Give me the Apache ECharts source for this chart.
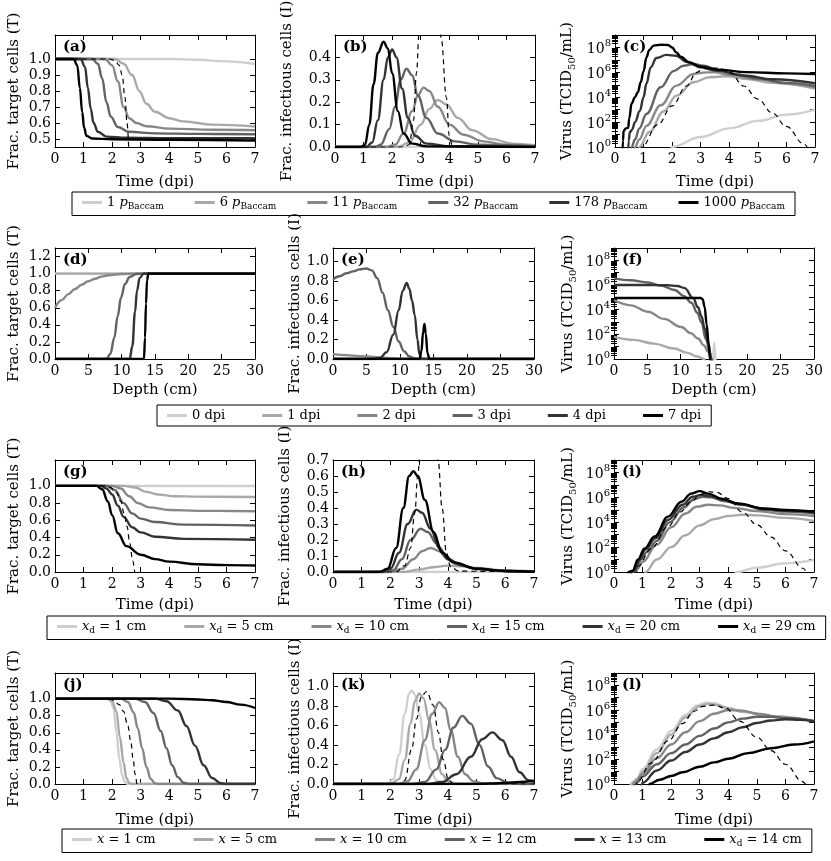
<!DOCTYPE html>
<html>
<head>
<meta charset="utf-8">
<script src="https://cdn.jsdelivr.net/npm/echarts@6/dist/echarts.min.js"></script>
<style>html,body{margin:0;background:#fff}#main{width:831px;height:861px}</style>
</head>
<body>
<div id="main"></div>
<script>
// grey ramp, light -> black (same order as legend entries)
var grays = ['#cfcfcf', '#a9a9a9', '#878787', '#626262', '#333333', '#000000'];
var FONT = 'DejaVu Serif';

var legendRow1 = ['1 pBaccam', '6 pBaccam', '11 pBaccam', '32 pBaccam', '178 pBaccam', '1000 pBaccam'];
var legendRow2 = ['0 dpi', '1 dpi', '2 dpi', '3 dpi', '4 dpi', '7 dpi'];
var legendRow3 = ['xd = 1 cm', 'xd = 5 cm', 'xd = 10 cm', 'xd = 15 cm', 'xd = 20 cm', 'xd = 29 cm'];
var legendRow4 = ['x = 1 cm', 'x = 5 cm', 'x = 10 cm', 'x = 12 cm', 'x = 13 cm', 'xd = 14 cm'];

var timeTicks = [0, 1, 2, 3, 4, 5, 6, 7];
var depthTicks = [0, 5, 10, 15, 20, 25, 30];
var yTicksA = [0.5, 0.6, 0.7, 0.8, 0.9, 1.0];
var yTicksB = [0, 0.1, 0.2, 0.3, 0.4];
var yTicksD = [0, 0.2, 0.4, 0.6, 0.8, 1.0, 1.2];
var yTicksUnit = [0, 0.2, 0.4, 0.6, 0.8, 1.0];
var yTicksH = [0, 0.1, 0.2, 0.3, 0.4, 0.5, 0.6, 0.7];
var logLabelTicks = [0, 2, 4, 6, 8];   // exponents of 10
var logMajorTicks = [0, 1, 2, 3, 4, 5, 6, 7, 8, 9];

// (a) target cells vs time, p sweep
var aCurves = [
  [[0,1],[4,1],[5,0.995],[6,0.985],[7,0.968]],
  [[0,1],[2.1,1],[2.4,0.97],[2.7,0.9],[2.95,0.8],[3.2,0.72],[3.5,0.67],[4,0.63],[4.5,0.61],[5.5,0.59],[7,0.578]],
  [[0,1],[1.75,1],[2.0,0.96],[2.2,0.86],[2.4,0.7],[2.6,0.63],[2.85,0.6],[3.2,0.58],[4,0.565],[5.5,0.558],[7,0.555]],
  [[0,1],[1.3,1],[1.5,0.97],[1.65,0.88],[1.8,0.73],[1.95,0.64],[2.2,0.575],[2.6,0.545],[3.5,0.535],[5,0.532],[7,0.53]],
  [[0,1],[0.9,1],[1.05,0.95],[1.15,0.82],[1.25,0.69],[1.35,0.6],[1.5,0.545],[1.8,0.515],[2.5,0.508],[4,0.505],[7,0.505]],
  [[0,1],[0.65,1],[0.78,0.96],[0.87,0.82],[0.95,0.67],[1.02,0.57],[1.1,0.52],[1.3,0.503],[2,0.498],[4,0.495],[7,0.49]]
];
var aDashed = [[0,1],[1.9,1],[2.1,0.99],[2.25,0.96],[2.35,0.9],[2.45,0.76],[2.52,0.6],[2.58,0.44]];

// (b) infectious cells vs time, p sweep
var bCurves = [
  [[0,0],[4,0],[7,0.002]],
  [[0,0],[2.2,0],[2.6,0.02],[3.0,0.1],[3.3,0.17],[3.6,0.21],[3.9,0.19],[4.3,0.13],[4.8,0.075],[5.5,0.035],[6.2,0.015],[7,0.008]],
  [[0,0],[1.8,0],[2.1,0.01],[2.4,0.06],[2.7,0.16],[2.9,0.23],[3.1,0.265],[3.3,0.25],[3.6,0.18],[4,0.1],[4.5,0.055],[5.2,0.025],[6,0.01],[7,0.004]],
  [[0,0],[1.4,0],[1.6,0.01],[1.9,0.08],[2.1,0.18],[2.3,0.3],[2.5,0.35],[2.7,0.32],[2.9,0.23],[3.2,0.13],[3.6,0.06],[4.2,0.025],[5,0.01],[7,0.002]],
  [[0,0],[1.1,0],[1.3,0.02],[1.5,0.12],[1.7,0.3],[1.85,0.4],[2.0,0.435],[2.15,0.4],[2.35,0.26],[2.55,0.13],[2.8,0.05],[3.2,0.015],[4,0.003],[7,0]],
  [[0,0],[0.9,0],[1.05,0.01],[1.2,0.1],[1.35,0.28],[1.5,0.42],[1.7,0.47],[1.85,0.44],[2.0,0.33],[2.2,0.16],[2.4,0.06],[2.7,0.015],[3.2,0.003],[7,0]]
];
var bDashed = [[0,0],[2.4,0],[2.6,0.01],[2.75,0.12],[2.85,0.33],[2.95,0.52],[3.05,0.75],[3.35,0.95],[3.62,0.7],[3.72,0.48],[3.9,0.22],[4.0,0.05],[4.1,0.01],[4.4,0],[7,0]];

// (c) virus titre, log10 exponents
var cCurves = [
  [[1.95,-0.3],[2.0,0],[3,0.8],[4,1.5],[5,2.1],[6,2.6],[7,3.0]],
  [[0.8,-1],[0.85,0],[1.2,1.2],[1.7,2.85],[2.15,4.13],[2.75,5.2],[3.3,5.6],[3.9,5.68],[4.6,5.47],[5.5,5.15],[7,4.7]],
  [[0.65,-1],[0.7,0],[0.85,0.6],[1.1,1.7],[1.6,3.35],[2.15,4.93],[2.75,5.87],[3.2,6.0],[3.5,6.0],[4,5.8],[5,5.45],[6,5.1],[7,4.8]],
  [[0.55,-1],[0.58,0],[0.7,0.6],[0.85,1.5],[1.1,2.65],[1.6,4.8],[2.05,6.1],[2.4,6.53],[2.75,6.67],[3.1,6.53],[3.6,6.2],[4.2,5.85],[5,5.5],[6,5.15],[7,4.9]],
  [[0.45,-1],[0.48,0.5],[0.52,1.2],[0.6,1.4],[0.7,2.0],[0.87,2.9],[1.0,4.0],[1.1,5.1],[1.25,6.4],[1.45,7.15],[1.8,7.4],[2.15,7.33],[2.5,6.85],[3.0,6.4],[3.5,6.15],[4.5,5.75],[5.5,5.45],[7,5.12]],
  [[0.25,-1],[0.28,0.5],[0.3,1.3],[0.38,1.5],[0.46,1.55],[0.5,2.3],[0.58,3.5],[0.7,4.0],[0.8,4.4],[0.9,5.2],[1.0,6.1],[1.1,7.2],[1.2,7.8],[1.35,8.15],[1.6,8.22],[1.85,8.2],[2.0,8.0],[2.15,7.6],[2.3,7.25],[2.6,6.8],[3.0,6.45],[3.6,6.22],[4.6,6.02],[6,5.92],[7,5.87]]
];
var cDashed = [[0.9,-0.3],[0.93,0],[1.5,1.8],[2.0,3.3],[2.5,4.9],[2.86,6.0],[3.1,6.3],[3.6,6.35],[4.03,6.0],[4.5,4.9],[5.0,3.85],[5.5,2.75],[6.0,1.65],[6.6,0.27],[6.75,-0.1]];

// (d) target cells vs depth
var dCurves = [
  [[0,1],[30,1]],
  [[0,1],[30,1]],
  [[0,0.6],[1,0.69],[2,0.76],[3,0.82],[4,0.87],[5,0.91],[6,0.94],[7,0.965],[8,0.98],[10,0.995],[12,1],[30,1]],
  [[0,0],[7.7,0],[8.3,0.06],[8.9,0.25],[9.4,0.5],[9.9,0.72],[10.5,0.88],[11.2,0.96],[12.2,0.995],[13,1],[30,1]],
  [[0,0],[11.2,0],[11.6,0.15],[12.0,0.55],[12.3,0.8],[12.7,0.95],[13.3,1],[30,1]],
  [[0,0],[13.35,0],[13.5,0.25],[13.65,0.65],[13.8,0.92],[14.0,1],[30,1]]
];

// (e) infectious cells vs depth
var eCurves = [
  [[0,0],[30,0]],
  [[0,0.005],[10,0],[30,0]],
  [[0,0.05],[2,0.04],[4,0.03],[6,0.02],[8,0.01],[10,0.004],[12,0],[30,0]],
  [[0,0.82],[1,0.85],[2,0.88],[3,0.9],[4,0.92],[5,0.93],[5.8,0.91],[6.6,0.83],[7.4,0.68],[8.2,0.5],[9,0.33],[9.8,0.18],[10.6,0.08],[11.4,0.025],[12.2,0.005],[13,0],[30,0]],
  [[0,0],[6,0],[7,0.01],[8,0.07],[9,0.25],[9.8,0.5],[10.4,0.7],[11,0.78],[11.4,0.72],[11.8,0.6],[12.2,0.45],[12.6,0.2],[12.9,0.05],[13.2,0],[30,0]],
  [[0,0],[12.9,0],[13.2,0.08],[13.45,0.28],[13.65,0.36],[13.85,0.26],[14.1,0.06],[14.4,0],[30,0]]
];

// (f) virus vs depth, log10 exponents
var fCurves = [
  [[14.85,-1],[14.95,1.2],[15.1,1.3],[15.25,-1]],
  [[0,1.8],[3,1.55],[6,1.25],[9,0.85],[11,0.5],[12.5,0.2],[13.5,0],[14,-1]],
  [[0,4.78],[2.5,4.35],[5.1,3.83],[7.5,3.25],[10.1,2.59],[11.5,2.1],[12.6,1.66],[13.5,1.1],[14.1,0.61],[14.75,0],[15,-1]],
  [[0,6.54],[2.5,6.38],[5.1,6.2],[7,5.95],[9.1,5.6],[10.5,5.1],[11.6,4.56],[12.5,3.75],[13.1,2.98],[13.8,1.6],[14.35,0.6],[14.6,0],[14.8,-1]],
  [[0,6.0],[5,6.0],[8,5.98],[9.5,5.92],[10.6,5.75],[11.85,4.96],[12.6,4.2],[13.1,3.5],[13.6,2.5],[14.1,1.4],[14.6,0],[14.8,-1]],
  [[0,4.95],[6,4.95],[13.0,4.95],[13.3,4.85],[13.6,4.2],[13.9,2.8],[14.2,1.2],[14.4,0],[14.6,-1]]
];

// (g) target cells vs time, xd sweep
var gCurves = [
  [[0,1],[7,0.998]],
  [[0,1],[2.4,1],[2.8,0.98],[3.2,0.93],[3.6,0.9],[4.2,0.88],[5,0.875],[7,0.87]],
  [[0,1],[2,1],[2.3,0.97],[2.6,0.88],[2.9,0.8],[3.3,0.75],[4,0.72],[5,0.71],[7,0.705]],
  [[0,1],[1.8,1],[2.1,0.95],[2.4,0.8],[2.7,0.68],[3.0,0.62],[3.5,0.58],[4.5,0.55],[7,0.54]],
  [[0,1],[1.6,1],[1.8,0.97],[2.0,0.9],[2.2,0.77],[2.4,0.64],[2.7,0.52],[3.0,0.46],[3.5,0.41],[4.5,0.385],[7,0.375]],
  [[0,1],[1.45,1],[1.65,0.96],[1.85,0.82],[2.0,0.66],[2.2,0.45],[2.5,0.3],[3,0.2],[3.5,0.15],[4,0.12],[5,0.09],[6,0.08],[7,0.075]]
];
var gDashed = [[0,1],[1.8,1],[1.95,0.98],[2.15,0.92],[2.3,0.82],[2.42,0.68],[2.52,0.53],[2.62,0.33],[2.72,0.13],[2.8,0],[2.85,-0.05]];

// (h) infectious cells vs time, xd sweep
var hCurves = [
  [[0,0],[5,0],[6,0.002],[7,0.003]],
  [[0,0],[2.4,0],[3,0.015],[3.5,0.03],[4,0.04],[4.5,0.035],[5,0.025],[6,0.01],[7,0.004]],
  [[0,0],[2.0,0],[2.4,0.02],[2.8,0.08],[3.1,0.13],[3.4,0.15],[3.7,0.13],[4.0,0.08],[4.4,0.045],[5,0.02],[6,0.006],[7,0.002]],
  [[0,0],[1.8,0],[2.1,0.01],[2.4,0.08],[2.7,0.2],[3.05,0.27],[3.3,0.25],[3.6,0.18],[3.9,0.1],[4.3,0.05],[5,0.02],[6,0.006],[7,0.002]],
  [[0,0],[1.7,0],[2.0,0.02],[2.3,0.12],[2.6,0.3],[2.9,0.39],[3.1,0.37],[3.4,0.27],[3.7,0.15],[4.0,0.08],[4.5,0.04],[5,0.02],[6,0.006],[7,0.002]],
  [[0,0],[1.6,0],[1.9,0.02],[2.2,0.15],[2.45,0.4],[2.65,0.6],[2.8,0.63],[2.95,0.6],[3.2,0.45],[3.5,0.25],[3.8,0.12],[4.2,0.06],[5,0.02],[6,0.006],[7,0.002]]
];
var hDashed = [[0,0],[2.2,0],[2.5,0.04],[2.7,0.15],[2.85,0.37],[2.95,0.6],[3.05,0.8],[3.3,0.95],[3.55,0.85],[3.66,0.7],[3.8,0.4],[3.95,0.12],[4.1,0.03],[4.4,0.005],[7,0]];

// (i) virus vs time, xd sweep, log10 exponents
var iCurves = [
  [[4.2,-0.3],[4.3,0],[5,0.35],[6,0.7],[7,0.97]],
  [[1.05,-0.5],[1.1,0],[1.5,1.0],[2.0,2.0],[2.5,2.95],[3.0,3.75],[3.5,4.25],[4.0,4.5],[4.5,4.6],[5.0,4.55],[6.0,4.35],[7,4.1]],
  [[0.6,-1],[0.65,0],[0.8,0.2],[1.0,0.8],[1.5,2.2],[2.0,3.6],[2.5,4.7],[2.9,5.25],[3.3,5.4],[3.7,5.35],[4.2,5.15],[5,4.9],[6,4.65],[7,4.5]],
  [[0.55,-1],[0.6,0],[0.72,0.1],[0.95,1.0],[1.15,1.6],[1.5,2.5],[1.95,4.0],[2.45,5.2],[2.8,5.85],[3.1,6.05],[3.4,6.0],[3.85,5.7],[4.45,5.4],[5.3,5.0],[6,4.85],[7,4.7]],
  [[0.55,-1],[0.6,0],[0.7,0.1],[0.9,1.0],[1.1,1.8],[1.45,2.7],[1.9,4.2],[2.4,5.4],[2.75,6.05],[3.05,6.2],[3.35,6.1],[3.8,5.8],[4.4,5.45],[5.3,5.05],[6,4.92],[7,4.8]],
  [[0.45,-1],[0.5,0],[0.65,0.1],[0.84,1.0],[1.07,1.9],[1.42,2.85],[1.89,4.45],[2.36,5.65],[2.7,6.3],[3.0,6.5],[3.29,6.3],[3.76,5.9],[4.34,5.5],[5.27,5.1],[6,4.98],[7,4.85]]
];
var iDashed = [[0.78,-0.3],[0.84,0.45],[1.3,1.9],[1.89,3.65],[2.3,4.8],[2.7,5.65],[3.0,6.2],[3.3,6.45],[3.6,6.4],[4.0,5.9],[4.5,4.8],[5.0,3.8],[5.5,2.8],[6.0,1.7],[6.62,0.3],[6.75,-0.1]];

// (j) target cells vs time, x sweep
var jCurves = [
  [[0,1],[1.8,1],[1.95,0.97],[2.05,0.88],[2.15,0.6],[2.25,0.3],[2.35,0.1],[2.45,0.02],[2.55,0],[7,0]],
  [[0,1],[1.85,1],[2.0,0.97],[2.15,0.85],[2.27,0.55],[2.4,0.25],[2.5,0.07],[2.6,0.01],[2.7,0],[7,0]],
  [[0,1],[2.3,1],[2.55,0.96],[2.75,0.84],[2.9,0.65],[3.05,0.42],[3.2,0.2],[3.35,0.06],[3.5,0.01],[3.6,0],[7,0]],
  [[0,1],[2.8,1],[3.15,0.96],[3.45,0.83],[3.7,0.62],[3.9,0.42],[4.1,0.22],[4.3,0.08],[4.5,0.015],[4.7,0],[7,0]],
  [[0,1],[3.5,1],[3.9,0.97],[4.3,0.86],[4.6,0.68],[4.9,0.45],[5.2,0.22],[5.5,0.07],[5.8,0.01],[6,0],[7,0]],
  [[0,1],[4,1],[5,0.99],[5.5,0.98],[6,0.96],[6.5,0.93],[7,0.89]]
];
var jDashed = [[0,1],[1.9,1],[2.05,0.98],[2.25,0.93],[2.4,0.85],[2.55,0.68],[2.65,0.5],[2.74,0.28],[2.8,0.12],[2.86,0]];

// (k) infectious cells vs time, x sweep
var kCurves = [
  [[0,0],[1.9,0],[2.1,0.05],[2.3,0.3],[2.5,0.72],[2.65,0.93],[2.75,0.96],[2.85,0.92],[3.0,0.72],[3.2,0.4],[3.4,0.15],[3.6,0.04],[3.8,0.005],[7,0]],
  [[0,0],[2.0,0],[2.3,0.05],[2.5,0.25],[2.7,0.62],[2.85,0.85],[3.0,0.93],[3.15,0.88],[3.35,0.65],[3.55,0.35],[3.8,0.1],[4.0,0.03],[4.3,0.003],[7,0]],
  [[0,0],[2.3,0],[2.6,0.03],[2.9,0.15],[3.2,0.45],[3.45,0.72],[3.7,0.84],[3.9,0.78],[4.1,0.55],[4.35,0.28],[4.6,0.1],[4.9,0.025],[5.3,0.003],[7,0]],
  [[0,0],[2.8,0],[3.2,0.02],[3.6,0.15],[3.9,0.35],[4.2,0.58],[4.5,0.7],[4.8,0.62],[5.1,0.4],[5.4,0.18],[5.7,0.06],[6.1,0.01],[6.5,0],[7,0]],
  [[0,0],[3.3,0],[3.8,0.02],[4.3,0.1],[4.8,0.28],[5.2,0.46],[5.55,0.53],[5.9,0.45],[6.2,0.28],[6.5,0.12],[6.8,0.04],[7,0.02]],
  [[0,0],[5,0],[5.5,0.005],[6,0.01],[6.5,0.02],[7,0.035]]
];
var kDashed = [[0,0],[2.3,0],[2.5,0.04],[2.74,0.36],[2.91,0.67],[3.08,0.9],[3.26,0.95],[3.49,0.81],[3.67,0.53],[3.84,0.25],[4.02,0.04],[4.2,0],[7,0]];

// (l) virus vs time, x sweep, log10 exponents
var lCurves = [
  [[0.55,-1],[0.6,0.1],[0.8,0.4],[1.0,1.2],[1.5,2.8],[2.0,4.3],[2.5,5.6],[2.9,6.35],[3.2,6.6],[3.5,6.55],[4.0,6.15],[4.5,5.85],[5.5,5.5],[7,5.1]],
  [[0.6,-1],[0.65,0.1],[0.85,0.4],[1.0,1.0],[1.5,2.5],[2.0,4.0],[2.5,5.4],[3.0,6.3],[3.3,6.5],[3.6,6.4],[4.0,6.15],[4.5,5.85],[5.5,5.5],[7,5.1]],
  [[0.6,-1],[0.7,0.1],[1.0,0.8],[1.5,2.1],[2.0,3.2],[2.5,4.2],[3.0,5.1],[3.5,5.7],[4.0,6.0],[4.5,5.95],[5.0,5.7],[6.0,5.35],[7,5.1]],
  [[0.7,-1],[0.8,0.1],[1.0,0.6],[1.5,1.6],[2.0,2.5],[2.5,3.2],[3.0,3.9],[3.5,4.5],[4.0,5.0],[4.5,5.3],[5.0,5.45],[5.5,5.45],[6,5.35],[7,5.1]],
  [[0.9,-1],[1.0,0.1],[1.5,1.1],[2.0,1.9],[2.5,2.6],[3.0,3.2],[3.5,3.7],[4.0,4.2],[4.5,4.6],[5.0,4.95],[5.5,5.15],[6.0,5.25],[6.5,5.2],[7,5.1]],
  [[1.2,-0.3],[1.25,0],[1.6,0.35],[2.0,0.65],[2.4,0.95],[3.0,1.4],[3.5,1.75],[4.0,2.05],[4.7,2.5],[5.5,2.9],[6.3,3.2],[7,3.46]]
];
var lDashed = [[0.75,-0.3],[0.82,0.2],[1.3,1.7],[1.9,3.5],[2.4,4.9],[2.8,5.9],[3.1,6.3],[3.5,6.4],[3.9,6.15],[4.4,5.1],[5.0,3.8],[5.5,2.7],[6.0,1.6],[6.6,0.2],[6.75,-0.2]];

var TNAME = 'Frac. target cells (T)';
var INAME = 'Frac. infectious cells (I)';
var VNAME = '{n|Virus (TCID}{sub|50}{n|/mL)}';

var panels = [
  {tag:'(a)', box:[55,35,200,112], xMax:7, xTicks:timeTicks, xName:'Time (dpi)', xGap:28, yMin:0.45, yMax:1.15, yTicks:yTicksA, yName:TNAME, gap:33, curves:aCurves, dashed:aDashed, names:legendRow1},
  {tag:'(b)', box:[335,35,200,112], xMax:7, xTicks:timeTicks, xName:'Time (dpi)', xGap:28, yMin:0, yMax:0.5, yTicks:yTicksB, yName:INAME, gap:40, curves:bCurves, dashed:bDashed, names:legendRow1},
  {tag:'(c)', box:[615,35,200,112], xMax:7, xTicks:timeTicks, xName:'Time (dpi)', xGap:28, log:true, yName:VNAME, gap:38, curves:cCurves, dashed:cDashed, names:legendRow1},
  {tag:'(d)', box:[55,248,200,111], xMax:30, xTicks:depthTicks, xName:'Depth (cm)', xGap:24, yMin:0, yMax:1.3, yTicks:yTicksD, yName:TNAME, gap:33, curves:dCurves, names:legendRow2},
  {tag:'(e)', box:[333,248,201,111], xMax:30, xTicks:depthTicks, xName:'Depth (cm)', xGap:24, yMin:0, yMax:1.14, yTicks:yTicksUnit, yName:INAME, gap:30, curves:eCurves, names:legendRow2},
  {tag:'(f)', box:[614,248,200,111], xMax:30, xTicks:depthTicks, xName:'Depth (cm)', xGap:24, log:true, yName:VNAME, gap:36, curves:fCurves, names:legendRow2},
  {tag:'(g)', box:[55,460,200,112], xMax:7, xTicks:timeTicks, xName:'Time (dpi)', xGap:26, yMin:0, yMax:1.3, yTicks:yTicksUnit, yName:TNAME, gap:33, curves:gCurves, dashed:gDashed, names:legendRow3},
  {tag:'(h)', box:[333,460,201,112], xMax:7, xTicks:timeTicks, xName:'Time (dpi)', xGap:26, yMin:0, yMax:0.7, yTicks:yTicksH, yName:INAME, gap:40, curves:hCurves, dashed:hDashed, names:legendRow3},
  {tag:'(i)', box:[614,460,200,112], xMax:7, xTicks:timeTicks, xName:'Time (dpi)', xGap:26, log:true, yName:VNAME, gap:36, curves:iCurves, dashed:iDashed, names:legendRow3},
  {tag:'(j)', box:[55,673,200,111], xMax:7, xTicks:timeTicks, xName:'Time (dpi)', xGap:29, yMin:0, yMax:1.3, yTicks:yTicksUnit, yName:TNAME, gap:33, curves:jCurves, dashed:jDashed, names:legendRow4},
  {tag:'(k)', box:[333,673,201,111], xMax:7, xTicks:timeTicks, xName:'Time (dpi)', xGap:29, yMin:0, yMax:1.14, yTicks:yTicksUnit, yName:INAME, gap:30, curves:kCurves, dashed:kDashed, names:legendRow4},
  {tag:'(l)', box:[614,673,200,111], xMax:7, xTicks:timeTicks, xName:'Time (dpi)', xGap:29, log:true, yName:VNAME, gap:36, curves:lCurves, dashed:lDashed, names:legendRow4}
];

// log minor tick positions (2..9 x 10^n)
var logMinor = [];
for (var n = 0; n < 9; n++) {
  for (var k = 2; k < 10; k++) logMinor.push(n + Math.log10(k));
}

var black = {color:'#000', width:1};
function tickAxis(len, vals) {
  return {show:true, inside:true, length:len, lineStyle:black, customValues:vals};
}

var option = {
  backgroundColor:'#fff',
  animation:false,
  grid:[], xAxis:[], yAxis:[], series:[], legend:[], graphic:[]
};

panels.forEach(function (p, gi) {
  option.grid.push({left:p.box[0], top:p.box[1], width:p.box[2], height:p.box[3], containLabel:false, outerBoundsMode:'none'});
  var xi = option.xAxis.length;
  var xBase = {gridIndex:gi, type:'value', min:0, max:p.xMax, splitLine:{show:false},
    axisLine:{show:true, onZero:false, lineStyle:black}};
  option.xAxis.push(Object.assign({}, xBase, {
    position:'bottom', name:p.xName, nameLocation:'middle', nameGap:p.xGap,
    nameTextStyle:{fontFamily:FONT, fontSize:15, color:'#000'},
    axisTick:tickAxis(5, p.xTicks),
    axisLabel:{customValues:p.xTicks, fontFamily:FONT, fontSize:14, color:'#000', margin:5}
  }));
  option.xAxis.push(Object.assign({}, xBase, {
    position:'top', axisTick:tickAxis(5, p.xTicks), axisLabel:{show:false}
  }));

  var yi = option.yAxis.length;
  var yMin = p.log ? 0 : p.yMin, yMax = p.log ? 9 : p.yMax;
  var yBase = {gridIndex:gi, type:'value', min:yMin, max:yMax, splitLine:{show:false},
    axisLine:{show:true, onZero:false, lineStyle:black}};
  var yLabel, nameStyle;
  if (p.log) {
    yLabel = {customValues:logLabelTicks, margin:4, color:'#000',
      formatter:function (v) { return '{b|10}{s|' + v + '}'; },
      rich:{b:{fontFamily:FONT, fontSize:14, color:'#000', verticalAlign:'bottom', lineHeight:18},
            s:{fontFamily:FONT, fontSize:10, color:'#000', verticalAlign:'top', lineHeight:18}}};
    nameStyle = {fontFamily:FONT, fontSize:15, color:'#000',
      rich:{n:{fontFamily:FONT, fontSize:15, color:'#000', lineHeight:20, verticalAlign:'middle'},
            sub:{fontFamily:FONT, fontSize:10, color:'#000', lineHeight:20, verticalAlign:'bottom'}}};
  } else {
    yLabel = {customValues:p.yTicks, margin:4, fontFamily:FONT, fontSize:14, color:'#000',
      formatter:function (v) { return v.toFixed(1); }};
    nameStyle = {fontFamily:FONT, fontSize:15, color:'#000'};
  }
  var major = p.log ? logMajorTicks : p.yTicks;
  option.yAxis.push(Object.assign({}, yBase, {
    position:'left', name:p.yName, nameLocation:'middle', nameGap:p.gap, nameRotate:90,
    nameTextStyle:nameStyle, axisTick:tickAxis(5, major), axisLabel:yLabel
  }));
  option.yAxis.push(Object.assign({}, yBase, {
    position:'right', axisTick:tickAxis(5, major), axisLabel:{show:false}
  }));
  if (p.log) {
    ['left', 'right'].forEach(function (side) {
      option.yAxis.push({gridIndex:gi, type:'value', min:0, max:9, position:side,
        splitLine:{show:false}, axisLine:{show:false}, axisLabel:{show:false},
        axisTick:tickAxis(3, logMinor)});
    });
  }

  p.curves.forEach(function (c, k) {
    option.series.push({
      type:'line', name:p.names[k], xAxisIndex:xi, yAxisIndex:yi, data:c,
      symbol:'none', showSymbol:false, smooth:0.4, smoothMonotone:'x', silent:true,
      lineStyle:{color:grays[k], width:2.4}, itemStyle:{color:grays[k]}, z:2
    });
  });
  if (p.dashed) {
    option.series.push({
      type:'line', xAxisIndex:xi, yAxisIndex:yi, data:p.dashed,
      symbol:'none', showSymbol:false, smooth:0.4, smoothMonotone:'x', silent:true,
      lineStyle:{color:'#000', width:1.2, type:[5, 4]}, z:3
    });
  }

  option.graphic.push({
    type:'text', left:p.box[0] + 8, top:p.box[1] + 5, z:50,
    style:{text:p.tag, font:'bold 15px "DejaVu Serif"', fill:'#000'}
  });
});

function legendText(name) {
  if (name.indexOf('pBaccam') >= 0) return '{n|' + name.split(' ')[0] + ' }{it|p}{sub|Baccam}';
  if (name.indexOf('xd =') === 0) return '{it|x}{sub|d}{n| = ' + name.slice(5) + '}';
  if (name.indexOf('x =') === 0) return '{it|x}{n| = ' + name.slice(4) + '}';
  return '{n|' + name + '}';
}
var legendRich = {
  n:{fontFamily:FONT, fontSize:13, color:'#000', lineHeight:18, verticalAlign:'middle'},
  it:{fontFamily:FONT, fontSize:13, fontStyle:'italic', color:'#000', lineHeight:18, verticalAlign:'middle'},
  sub:{fontFamily:FONT, fontSize:9, color:'#000', lineHeight:18, verticalAlign:'bottom'}
};
var legendSpecs = [
  {data:legendRow1, left:72, top:192, gap:31},
  {data:legendRow2, left:157, top:405, gap:37},
  {data:legendRow3, left:47, top:616, gap:38},
  {data:legendRow4, left:62, top:829, gap:38}
];
legendSpecs.forEach(function (l) {
  option.legend.push({
    data:l.data, left:l.left, top:l.top, width:790, orient:'horizontal', itemGap:l.gap,
    icon:'rect', itemWidth:20, itemHeight:3, padding:[4, 10, 4, 10],
    borderColor:'#000', borderWidth:1, borderRadius:0, selectedMode:false,
    formatter:legendText, textStyle:{fontFamily:FONT, fontSize:13, color:'#000', rich:legendRich}
  });
});

var myChart = echarts.init(document.getElementById('main'));
myChart.setOption(option);
</script>
</body>
</html>
